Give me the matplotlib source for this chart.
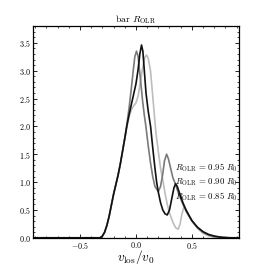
import matplotlib
matplotlib.use("Agg")
import matplotlib.pyplot as plt
from matplotlib.ticker import MultipleLocator

plt.rcParams['mathtext.fontset'] = 'cm'
plt.rcParams['font.family'] = ['cmr10', 'DejaVu Serif']
plt.rcParams['axes.formatter.use_mathtext'] = True

# light gray curve (R_OLR = 0.95 R0)
x_a = [-0.92, -0.32, -0.30, -0.28, -0.26, -0.24, -0.22, -0.20, -0.18, -0.16, -0.14, -0.12, -0.10, -0.08,
       -0.06, -0.04, -0.02, 0.0, 0.02, 0.04, 0.06, 0.08, 0.095, 0.11, 0.13, 0.15, 0.165, 0.178, 0.20,
       0.22, 0.244, 0.26, 0.28, 0.30, 0.33, 0.355, 0.378, 0.395, 0.41, 0.43, 0.45, 0.48, 0.52, 0.56,
       0.60, 0.65, 0.70, 0.75, 0.92]
y_a = [0.0, 0.0, 0.03, 0.10, 0.22, 0.38, 0.58, 0.78, 0.95, 1.12, 1.32, 1.55, 1.78, 2.00,
       2.18, 2.30, 2.37, 2.42, 2.55, 2.80, 3.05, 3.24, 3.28, 3.22, 3.00, 2.55, 2.20, 1.90, 1.55,
       1.25, 1.00, 0.80, 0.60, 0.45, 0.28, 0.18, 0.155, 0.25, 0.42, 0.56, 0.50, 0.38, 0.25, 0.15,
       0.08, 0.035, 0.01, 0.0, 0.0]

# medium gray curve (R_OLR = 0.90 R0)
x_b = [-0.92, -0.32, -0.30, -0.28, -0.26, -0.24, -0.22, -0.20, -0.18, -0.16, -0.14, -0.12, -0.10, -0.08,
       -0.06, -0.04, -0.024, -0.01, 0.005, 0.02, 0.04, 0.06, 0.075, 0.089, 0.11, 0.13, 0.15, 0.17,
       0.20, 0.22, 0.24, 0.255, 0.274, 0.29, 0.31, 0.33, 0.35, 0.38, 0.42, 0.45, 0.50, 0.55, 0.60,
       0.65, 0.70, 0.75, 0.80, 0.92]
y_b = [0.0, 0.0, 0.03, 0.10, 0.22, 0.38, 0.58, 0.78, 0.95, 1.12, 1.32, 1.55, 1.78, 2.05,
       2.35, 2.70, 3.00, 3.25, 3.35, 3.25, 2.85, 2.45, 2.20, 2.00, 1.65, 1.35, 1.10, 0.92,
       0.83, 0.92, 1.15, 1.38, 1.50, 1.42, 1.25, 1.08, 0.98, 0.80, 0.60, 0.47, 0.30, 0.18, 0.10,
       0.05, 0.022, 0.008, 0.0, 0.0]

# black curve (R_OLR = 0.85 R0)
x_c = [-0.92, -0.32, -0.30, -0.28, -0.26, -0.24, -0.22, -0.20, -0.18, -0.16, -0.14, -0.12, -0.10, -0.08,
       -0.06, -0.04, -0.02, 0.0, 0.018, 0.035, 0.05, 0.062, 0.075, 0.09, 0.11, 0.131, 0.15, 0.17,
       0.185, 0.20, 0.22, 0.24, 0.26, 0.28, 0.30, 0.32, 0.34, 0.355, 0.37, 0.39, 0.42, 0.45, 0.50,
       0.55, 0.60, 0.65, 0.70, 0.75, 0.80, 0.85, 0.92]
y_c = [0.0, 0.0, 0.03, 0.10, 0.22, 0.38, 0.58, 0.78, 0.95, 1.12, 1.32, 1.55, 1.78, 2.02,
       2.22, 2.40, 2.58, 2.76, 3.00, 3.30, 3.46, 3.35, 3.00, 2.60, 2.27, 2.00, 1.62, 1.25,
       1.00, 0.82, 0.63, 0.50, 0.43, 0.41, 0.50, 0.70, 0.90, 0.97, 0.92, 0.80, 0.63, 0.49, 0.31,
       0.19, 0.11, 0.06, 0.032, 0.014, 0.005, 0.0, 0.0]

labels = [r'$R_{\rm OLR}$ = 0.95 $R_0$', r'$R_{\rm OLR}$ = 0.90 $R_0$', r'$R_{\rm OLR}$ = 0.85 $R_0$']
colors = ['#bdbdbd', '#7a7a7a', '#111111']
title = r'bar $R_{\rm OLR}$'

fig = plt.figure(figsize=(2.66, 2.66), dpi=100)
ax = fig.add_axes([0.124, 0.106, 0.774, 0.796])

for xs, ys, c, lab in zip([x_a, x_b, x_c], [y_a, y_b, y_c], colors, labels):
    ax.plot(xs, ys, color=c, lw=1.2, label=lab)

ax.set_xlim(-0.92, 0.92)
ax.set_ylim(0, 3.8)
ax.xaxis.set_major_locator(MultipleLocator(0.5))
ax.xaxis.set_minor_locator(MultipleLocator(0.1))
ax.yaxis.set_major_locator(MultipleLocator(0.5))
ax.yaxis.set_minor_locator(MultipleLocator(0.1))
ax.tick_params(which='both', direction='in', top=True, right=True, labelsize=5.8, pad=1.5)
ax.tick_params(which='major', length=3, width=0.6)
ax.tick_params(which='minor', length=1.5, width=0.5)
for s in ax.spines.values():
    s.set_linewidth(0.9)

ax.set_xlabel(r'$v_{\rm los}/v_0$', fontsize=9.5, va='top')
ax.xaxis.set_label_coords(0.5, -0.05)
ax.set_title(title, fontsize=7, pad=3)

leg = ax.legend(loc='center right', bbox_to_anchor=(1.0, 0.263), frameon=False, fontsize=6.3,
                handlelength=0, handletextpad=0, borderpad=0, borderaxespad=0.1, labelspacing=0.25)
for h in leg.legend_handles:
    h.set_visible(False)

fig.savefig('out.png', dpi=100)
